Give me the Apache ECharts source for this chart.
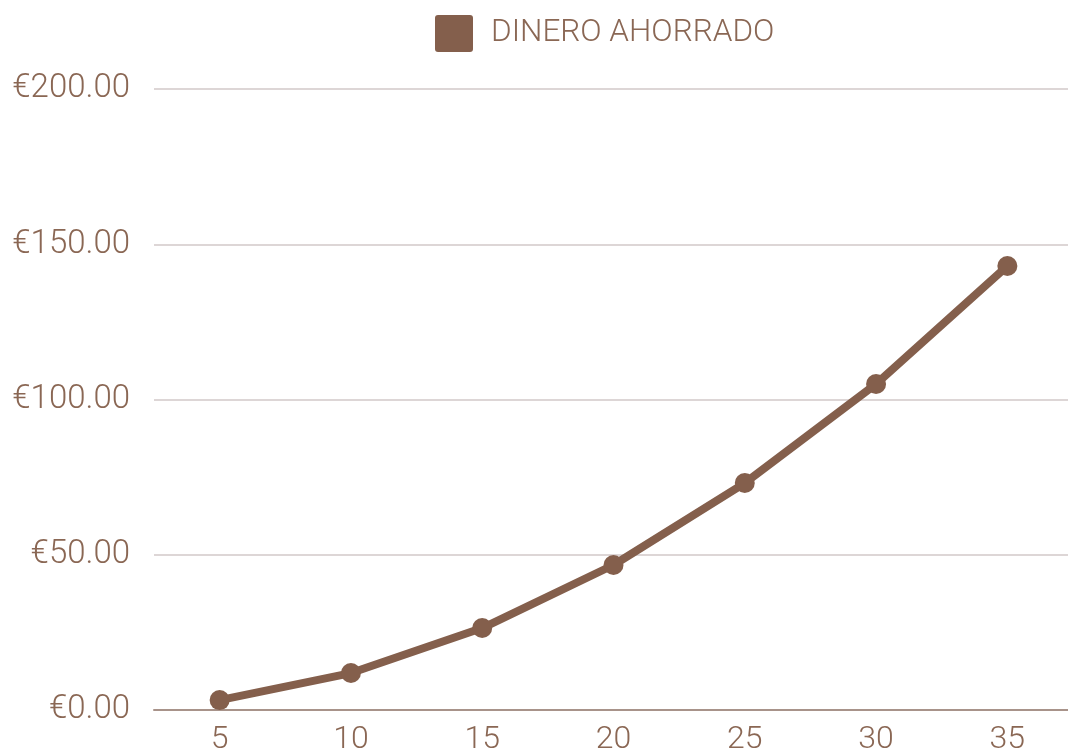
<!DOCTYPE html>
<html>
<head>
<meta charset="utf-8">
<script src="https://cdn.jsdelivr.net/npm/echarts@6/dist/echarts.min.js"></script>
<style>
  html, body { margin: 0; padding: 0; background: #fff; }
  #chart { width: 1068px; height: 754px; }
</style>
</head>
<body>
<div id="chart"></div>
<script>
// data
const years = ["5", "10", "15", "20", "25", "30", "35"];
const saved = [3.2, 11.9, 26.4, 46.7, 73.1, 105, 143];
const seriesName = "DINERO AHORRADO";

const brown = "#845f4c";
const textColor = "#8a6754";
const font = "Roboto";

const chart = echarts.init(document.getElementById("chart"));

const option = {
  backgroundColor: "#fff",
  textStyle: { fontFamily: font },
  legend: {
    top: 10,
    left: 430,
    itemWidth: 38,
    itemHeight: 37,
    itemGap: 10,
    icon: "path://M3,0 L35,0 Q38,0 38,3 L38,34 Q38,37 35,37 L3,37 Q0,37 0,34 L0,3 Q0,0 3,0 Z",
    textStyle: { color: textColor, fontSize: 31.5, fontFamily: font, fontWeight: 300, padding: [0, 0, 0, 13] },
    data: [seriesName]
  },
  grid: {
    left: 154,
    right: -5,
    top: 89,
    bottom: 44,
    outerBoundsMode: "none",
    containLabel: false
  },
  xAxis: {
    type: "category",
    data: years,
    boundaryGap: true,
    axisTick: { show: false },
    axisLine: { lineStyle: { color: "#a8938a", width: 2 } },
    axisLabel: { color: textColor, fontSize: 32, fontWeight: 300, margin: 14 }
  },
  yAxis: {
    type: "value",
    min: 0,
    max: 200,
    interval: 50,
    axisLine: { show: false },
    axisTick: { show: false },
    splitLine: { lineStyle: { color: "#ddd6d6", width: 2 } },
    axisLabel: {
      color: textColor,
      fontSize: 33,
      fontWeight: 300,
      margin: 24,
      formatter: v => "€" + v.toFixed(2)
    }
  },
  series: [{
    name: seriesName,
    type: "line",
    data: saved,
    symbol: "circle",
    symbolSize: 20,
    lineStyle: { color: brown, width: 8 },
    itemStyle: { color: brown },
    animation: false
  }]
};

chart.setOption(option);
</script>
</body>
</html>
